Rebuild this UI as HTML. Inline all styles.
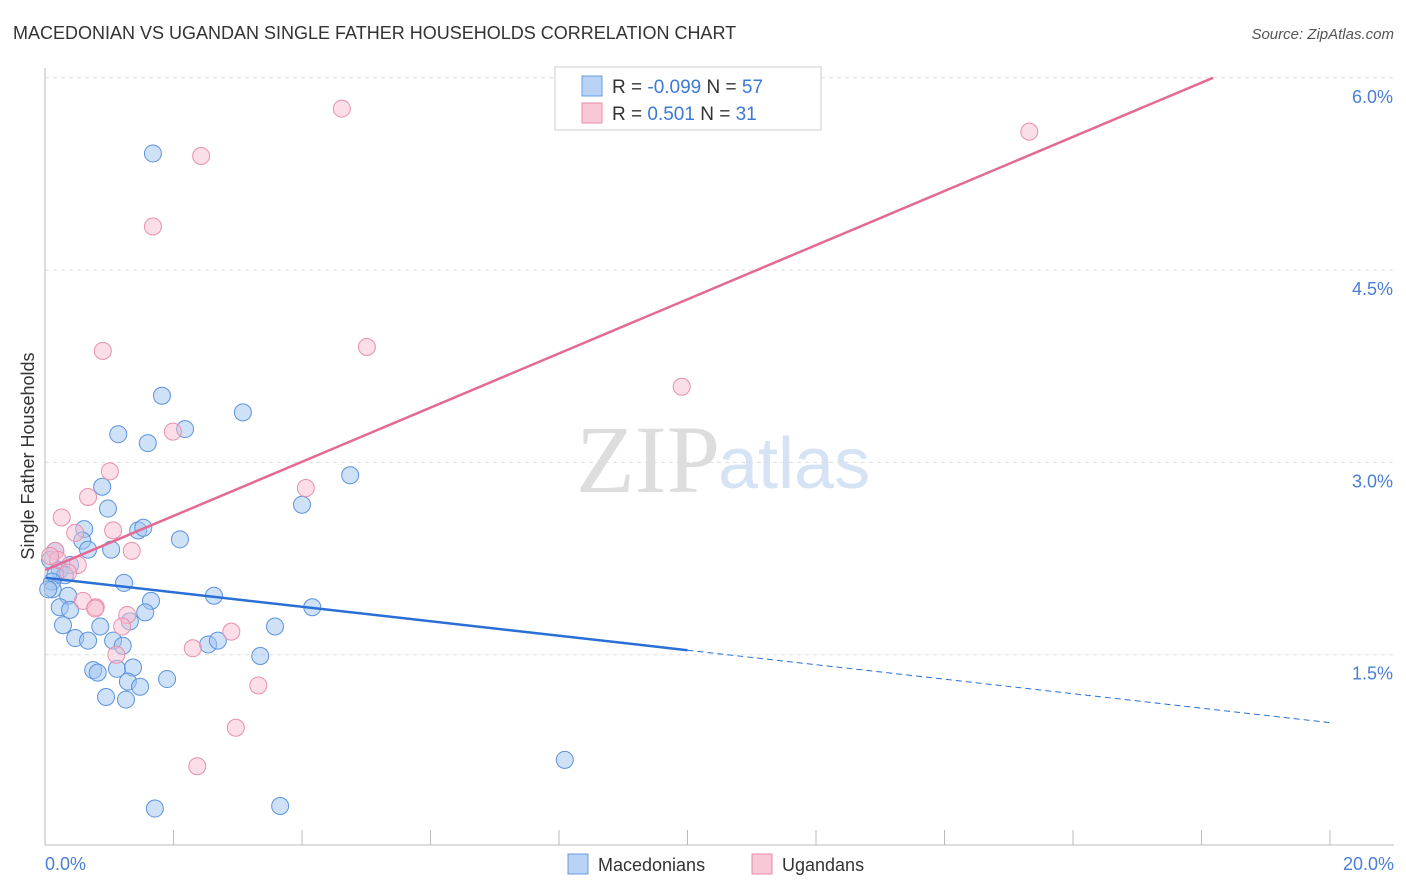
<!DOCTYPE html>
<html><head><meta charset="utf-8"><style>
body{margin:0;background:#fff;font-family:"Liberation Sans",sans-serif}
svg{display:block}
</style></head><body>
<svg id="c" width="1406" height="892">
<text x="13" y="39" font-size="18" fill="#333">MACEDONIAN VS UGANDAN SINGLE FATHER HOUSEHOLDS CORRELATION CHART</text>
<text x="1394" y="39" font-size="15" fill="#555" font-style="italic" text-anchor="end">Source: ZipAtlas.com</text>
<text x="720" y="492" font-size="96" fill="#ddd" text-anchor="end" font-family="Liberation Serif">ZIP</text>
<text x="718" y="488" font-size="72" fill="#d5e3f5">atlas</text>
<g id="grid"></g><g id="pts"></g><g id="lines"></g>
<line x1="45" y1="68" x2="45" y2="845" stroke="#bbb"/>
<line x1="45" y1="845" x2="1394" y2="845" stroke="#bbb"/>
<text x="34" y="456" font-size="18" fill="#333" text-anchor="middle" transform="rotate(-90 34 456)">Single Father Households</text>
<text x="45" y="870" font-size="18" fill="#4a7fd8">0.0%</text>
<text x="1394" y="870" font-size="18" fill="#4a7fd8" text-anchor="end">20.0%</text>
<g>
<rect x="555" y="67" width="266" height="63" fill="#fff" stroke="#ccc"/>
<rect x="582" y="76" width="20" height="20" fill="#b8d3f5" stroke="#6a9de0"/>
<rect x="582" y="103" width="20" height="20" fill="#f9c8d6" stroke="#e78aa8"/>
<text x="612" y="93" font-size="19" fill="#333">R = <tspan fill="#3c78d8">-0.099</tspan>   N = <tspan fill="#3c78d8">57</tspan></text>
<text x="612" y="120" font-size="19" fill="#333">R =    <tspan fill="#3c78d8">0.501</tspan>   N =  <tspan fill="#3c78d8">31</tspan></text>
</g>
<g>
<rect x="568" y="854" width="20" height="20" fill="#b8d3f5" stroke="#6a9de0"/>
<text x="598" y="871" font-size="18" fill="#333">Macedonians</text>
<rect x="752" y="854" width="20" height="20" fill="#f9c8d6" stroke="#e78aa8"/>
<text x="782" y="871" font-size="18" fill="#333">Ugandans</text>
</g>
</svg>
<script>
const yTicks=[1.5,3.0,4.5,6.0];
const xTickVals=[0,2,4,6,8,10,12,14,16,18,20];
const macX=[1.68,1.82,2.18,3.08,1.14,1.60,0.89,0.98,0.61,1.45,1.53,2.10,0.58,0.67,1.03,4.75,4.00,0.16,0.08,0.23,0.39,0.31,0.16,0.11,0.12,1.23,0.36,0.23,0.39,1.65,2.63,4.16,1.56,0.28,0.86,3.58,1.32,0.47,0.67,1.06,1.21,2.54,2.69,3.35,0.75,0.82,1.12,1.37,1.29,1.48,1.90,0.95,1.26,8.09,1.71,3.66,0.05];
const macY=[5.41,3.52,3.26,3.39,3.22,3.15,2.81,2.64,2.48,2.47,2.49,2.40,2.39,2.32,2.32,2.90,2.67,2.31,2.24,2.16,2.20,2.12,2.12,2.07,2.01,2.06,1.96,1.87,1.85,1.92,1.96,1.87,1.83,1.73,1.72,1.72,1.76,1.63,1.61,1.61,1.57,1.58,1.61,1.49,1.38,1.36,1.39,1.40,1.29,1.25,1.31,1.17,1.15,0.68,0.30,0.32,2.01];
const ugX=[4.62,2.43,1.68,15.32,0.90,5.01,9.91,1.99,1.01,0.67,4.06,0.26,1.06,0.47,0.16,1.35,0.51,0.20,0.36,0.79,0.59,1.28,1.20,2.90,2.30,1.11,3.32,2.97,2.37,0.08,0.78];
const ugY=[5.76,5.39,4.84,5.58,3.87,3.90,3.59,3.24,2.93,2.73,2.80,2.57,2.47,2.45,2.31,2.31,2.20,2.24,2.14,1.87,1.92,1.81,1.72,1.68,1.55,1.50,1.26,0.93,0.63,2.27,1.86];
const macLine=[2.10,0.97]; // y at x=0 and x=20
const ugLine=[2.16,6.0,18.18]; // y at x=0, y at end, end x
const X=v=>45+v*64.25, Y=v=>847-v*128.2;
const NS='http://www.w3.org/2000/svg';
function mk(t,a,p){const e=document.createElementNS(NS,t);for(const k in a)e.setAttribute(k,a[k]);p.appendChild(e);return e;}
const grid=document.getElementById('grid'),pts=document.getElementById('pts'),lines=document.getElementById('lines'),svg=document.getElementById('c');
yTicks.forEach(v=>{
const l=mk('line',{x1:45,x2:1394,y1:Y(v),y2:Y(v),stroke:'#ddd','stroke-dasharray':'4,4'},grid);


const t=mk('text',{x:1393,y:Y(v)+25,'font-size':18,fill:'#4a7fd8','text-anchor':'end'},svg);
t.textContent=v.toFixed(1)+'%';


});
xTickVals.forEach(v=>{
const l=mk('line',{x1:X(v),x2:X(v),y1:830,y2:845,stroke:'#bbb'},grid);


});
macX.forEach((x,i)=>{
const c=mk('circle',{cx:X(x),cy:Y(macY[i]),r:8.5,fill:'rgba(160,196,240,0.5)',stroke:'#5b93de','stroke-width':1},pts);


});
ugX.forEach((x,i)=>{
const c=mk('circle',{cx:X(x),cy:Y(ugY[i]),r:8.5,fill:'rgba(248,190,208,0.5)',stroke:'#e890ae','stroke-width':1},pts);


});
const my=x=>macLine[0]+(macLine[1]-macLine[0])*x/20;
let l1=mk('line',{x1:X(0),y1:Y(my(0)),x2:X(10),y2:Y(my(10)),stroke:'#2a6fd6','stroke-width':2.5},lines);


let l2=mk('line',{x1:X(10),y1:Y(my(10)),x2:X(20),y2:Y(my(20)),stroke:'#2a6fd6','stroke-width':1,'stroke-dasharray':'6,4'},lines);


let l3=mk('line',{x1:X(0),y1:Y(ugLine[0]),x2:X(ugLine[2]),y2:Y(ugLine[1]),stroke:'#e36a94','stroke-width':2.5},lines);


</script>
</body></html>
